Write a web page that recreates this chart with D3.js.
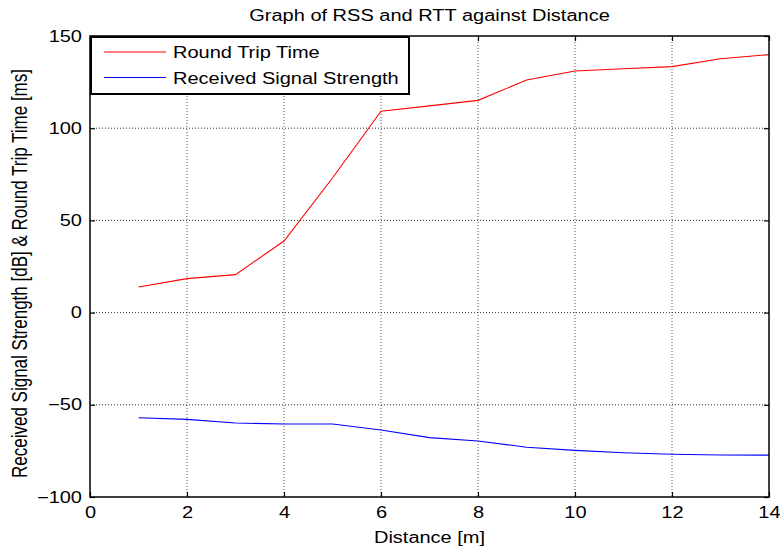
<!DOCTYPE html>
<html><head><meta charset="utf-8">
<script src="https://cdn.jsdelivr.net/npm/d3@7"></script>
<style>body{margin:0;background:#fff}svg{display:block}text{font-family:"Liberation Sans",Arial,sans-serif;fill:#000}</style>
</head><body><svg id="c" width="780" height="550"></svg>
<script>
const distance = [1,2,3,4,5,6,7,8,9,10,11,12,13,14];
const rtt = [13.9,18.4,20.6,38.8,73,109.2,112.1,115.1,126.1,131.0,132.2,133.4,137.7,139.9];
const rss = [-57.0,-57.9,-59.9,-60.4,-60.4,-63.7,-67.8,-69.6,-73.0,-74.7,-76.0,-76.8,-77.2,-77.3];
const xTicks = [0,2,4,6,8,10,12,14];
const yTicks = [-100,-50,0,50,100,150];
const seriesNames = ["Round Trip Time","Received Signal Strength"];
const seriesColors = ["#ff0000","#0000ff"];
const titleText = "Graph of RSS and RTT against Distance";
const xLabel = "Distance [m]";
const yLabel = "Received Signal Strength [dB] & Round Trip Time [ms]";

const SX = 1.25; // horizontal stretch of the original figure's text
const m = {left:90, right:769, top:36, bottom:497};
const svg = d3.select("#c");
const x = d3.scaleLinear().domain([0,14]).range([m.left,m.right]);
const y = d3.scaleLinear().domain([-100,150]).range([m.bottom,m.top]);

function stext(g, px, py, str, size, anchor){
  return g.append("text").attr("transform",`translate(${px},${py}) scale(${SX},1)`)
    .attr("text-anchor",anchor).style("font-size",size+"px").text(str);
}

// grid
const grid = svg.append("g");
grid.selectAll(".vg").data(xTicks.slice(1,-1)).join("line")
  .attr("x1",d=>x(d)).attr("x2",d=>x(d)).attr("y1",m.top).attr("y2",m.bottom)
  .attr("stroke","#555").attr("stroke-width",1).attr("stroke-dasharray","1,2");
grid.selectAll(".hg").data(yTicks.slice(1,-1)).join("line")
  .attr("y1",d=>y(d)).attr("y2",d=>y(d)).attr("x1",m.left).attr("x2",m.right)
  .attr("stroke","#333").attr("stroke-width",1).attr("stroke-dasharray","1,2");

// axes with inward ticks
const tl = 5;
const xb = d3.axisBottom(x).tickValues(xTicks).tickSize(-tl).tickPadding(12);
const xt = d3.axisTop(x).tickValues(xTicks).tickSize(-tl).tickFormat("");
const yl = d3.axisLeft(y).tickValues(yTicks).tickSize(-tl).tickPadding(12);
const yr = d3.axisRight(y).tickValues(yTicks).tickSize(-tl).tickFormat("");
function styleAxis(g){
  g.select(".domain").remove();
  g.selectAll(".tick line").attr("stroke","#000").attr("stroke-width",1.2);
  g.selectAll("text").style("font-size","16px").attr("fill","#000");
}
const gxb = svg.append("g").attr("transform",`translate(0,${m.bottom})`).call(xb).call(styleAxis);
gxb.selectAll(".tick text").attr("x",0).attr("y",10).attr("dy","0.71em").attr("transform",`scale(${SX},1)`);
svg.append("g").attr("transform",`translate(0,${m.top})`).call(xt).call(styleAxis);
const gyl = svg.append("g").attr("transform",`translate(${m.left},0)`).call(yl).call(styleAxis);
gyl.selectAll(".tick text").attr("x",0).attr("transform",`translate(-8,0) scale(${SX},1)`);
svg.append("g").attr("transform",`translate(${m.right},0)`).call(yr).call(styleAxis);

// lines
const line = d3.line().x((d,i)=>x(distance[i])).y(d=>y(d));
[rtt,rss].forEach((s,i)=>{
  svg.append("path").datum(s).attr("d",line).attr("fill","none")
    .attr("stroke",seriesColors[i]).attr("stroke-width",1.1);
});

// frame
svg.append("rect").attr("x",m.left).attr("y",m.top).attr("width",m.right-m.left).attr("height",m.bottom-m.top)
  .attr("fill","none").attr("stroke","#000").attr("stroke-width",1.5);

// legend
const lg = svg.append("g");
lg.append("rect").attr("x",91).attr("y",37).attr("width",318).attr("height",57)
  .attr("fill","#fff").attr("stroke","#000").attr("stroke-width",2);
seriesNames.forEach((n,i)=>{
  const yy = 52 + i*25.5;
  lg.append("line").attr("x1",104).attr("x2",166).attr("y1",yy).attr("y2",yy)
    .attr("stroke",seriesColors[i]).attr("stroke-width",1.1);
  stext(lg,173,yy+6,n,16,"start");
});

// titles
stext(svg,(m.left+m.right)/2,21,titleText,16,"middle");
stext(svg,(m.left+m.right)/2,543,xLabel,16,"middle");
svg.append("text").attr("transform",`translate(27,${(m.top+m.bottom)/2 + 7}) scale(${SX},1) rotate(-90)`)
  .attr("text-anchor","middle").style("font-size","17px").text(yLabel);
</script></body></html>
